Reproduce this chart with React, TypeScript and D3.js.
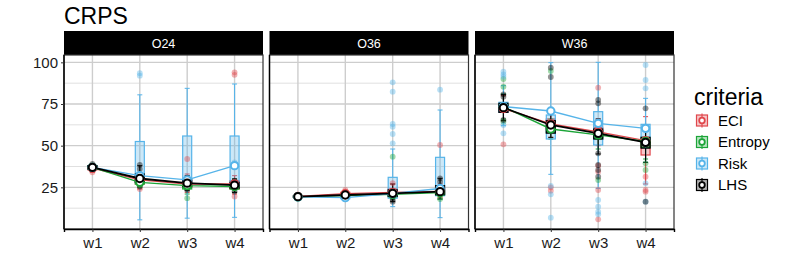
import { useEffect, useRef } from 'react'
import * as d3 from 'd3'

const panels = ['O24', 'O36', 'W36']
const weeks = ['w1', 'w2', 'w3', 'w4']
const criteria = ['ECI', 'Entropy', 'Risk', 'LHS']
const criteriaColors = ['#E0474C', '#1CA538', '#56B4E9', '#000000']
const yTicks = [25, 50, 75, 100]
const yMinor = [12.5, 37.5, 62.5, 87.5]

// mean per week, one list per criterion
const meansO24: Record<string, number[]> = {
  ECI: [36.5, 29.5, 27, 27],
  Entropy: [37, 28, 26, 25.5],
  Risk: [37, 32, 29.5, 38],
  LHS: [37, 30.3, 27.5, 26.3],
}
const meansO36: Record<string, number[]> = {
  ECI: [19.5, 21.2, 22, 22.5],
  Entropy: [19.3, 20, 20.8, 21.8],
  Risk: [19.3, 18.8, 21.3, 24.3],
  LHS: [19.4, 20.4, 21.4, 22.4],
}
const meansW36: Record<string, number[]> = {
  ECI: [72.3, 63, 58.3, 53],
  Entropy: [73.3, 60, 56.5, 52.5],
  Risk: [73.5, 70.8, 63.4, 60.4],
  LHS: [72.8, 62.4, 57.4, 52],
}

// box stats per week: [lower whisker, q1, median, q3, upper whisker]
const boxesO24: Record<string, number[][]> = {
  ECI: [[34, 35.5, 36.5, 37.5, 38.5], [24, 27, 29, 31, 34], [22, 25, 27, 29, 33], [21, 24, 26.5, 29, 32]],
  Entropy: [[35, 36, 37, 38, 39], [25, 27, 28, 30, 33], [21, 24, 26, 28, 31], [22, 24, 25.5, 27, 30]],
  Risk: [[35, 36, 37, 38, 39], [5.5, 28, 29.5, 52.5, 80.5], [6.5, 26.5, 27.5, 55.8, 84.4], [7, 25.5, 26.5, 55.8, 87]],
  LHS: [[35, 36, 37, 38, 39], [26, 28, 30, 33, 38], [23, 25.5, 27.5, 29.5, 32], [22, 24.5, 26, 28, 30]],
}
const boxesO36: Record<string, number[][]> = {
  ECI: [[18.5, 19, 19.5, 20, 20.5], [20, 20.8, 21.2, 22, 23], [19, 20.5, 22, 24, 27], [19, 21, 22.5, 24, 27]],
  Entropy: [[18.5, 19, 19.3, 19.8, 20.5], [19, 19.5, 20, 20.5, 21], [18, 19.5, 20.8, 22, 24], [18, 20.5, 21.8, 23, 25]],
  Risk: [[18.5, 19, 19.3, 19.8, 20.5], [17.5, 18.2, 18.8, 19.5, 20.5], [13.4, 18.5, 20, 31, 48], [6.8, 20, 22.5, 43, 71.4]],
  LHS: [[18.8, 19.1, 19.4, 19.7, 20], [19.5, 20, 20.4, 20.8, 21.5], [16.4, 19.5, 21.4, 23.5, 27], [18, 20.5, 22.4, 26, 30.4]],
}
const boxesW36: Record<string, number[][]> = {
  ECI: [[65, 70, 72, 74.5, 80], [55, 60, 63, 66, 72], [50, 55, 58, 61, 66], [27, 44.4, 51, 52.5, 67.4]],
  Entropy: [[66, 71, 73, 75, 81], [54, 58, 60, 62, 66], [48, 54, 56.5, 59, 64], [42, 49, 52.5, 55, 60]],
  Risk: [[62, 70, 73.5, 76, 86], [32.8, 54, 61, 68.4, 99.8], [24.4, 50.4, 63, 70.4, 100], [40, 53.4, 60, 62.8, 78.4]],
  LHS: [[65, 70, 72.5, 75.4, 80.8], [55, 57.5, 62, 65, 70], [45, 54, 57.4, 60, 66], [40, 48.5, 52, 55, 60]],
}

// single observations shown as points, per week
const pointsO24: Record<string, number[][]> = {
  ECI: [[34], [24], [42], [94, 92.5, 19.5]],
  Entropy: [[], [26], [18.5], []],
  Risk: [[], [93.5, 92], [], [40]],
  LHS: [[39], [38.5, 36, 25.5], [23.5], [22.5, 29]],
}
const pointsO36: Record<string, number[][]> = {
  ECI: [[], [23.4], [27.5], [50.4]],
  Entropy: [[], [], [43.4], [18]],
  Risk: [[], [], [51.4, 57, 61.4, 63, 82.4, 88], [83.6]],
  LHS: [[], [], [16.4, 17.5], [30.4, 28.4]],
}
const pointsW36: Record<string, number[][]> = {
  ECI: [[50.8], [23, 25], [84.8, 38, 34.4, 23.4, 5.8], [31.4, 23.4, 22.4]],
  Entropy: [[90, 85.4, 64.4], [94.8], [29.4], [39.4, 35.4]],
  Risk: [[94.4, 92.8, 91.4, 62.4, 57.4], [25.8, 20.8, 6.8], [17.4, 13.4, 10.4, 8.8], [98.4, 89.4, 84.4, 27.4, 16.4]],
  LHS: [[80.8, 79.4, 65.4], [96.8, 91.2], [77.4, 75.4, 45.4, 38.4, 35.4, 31.4], [72.4, 16.4]],
}

const panelMeans = [meansO24, meansO36, meansW36]
const panelBoxes = [boxesO24, boxesO36, boxesW36]
const panelPoints = [pointsO24, pointsO36, pointsW36]

export default function App() {
  const svgRef = useRef<SVGSVGElement>(null)

  useEffect(() => {
    if (!svgRef.current) return
    const width = 789
    const height = 279
    const font = '"Liberation Sans", Arial, Helvetica, sans-serif'

    const svg = d3.select(svgRef.current)
    svg.selectAll('*').remove()
    svg.attr('width', width).attr('height', height).style('font-family', font)

    const panelLeft = 64
    const panelW = 199
    const panelGap = 6.5
    const stripTop = 31
    const plotTop = 55
    const plotBottom = 229

    const y = d3.scaleLinear().domain([0, 104.4]).range([plotBottom, plotTop])
    const color = d3.scaleOrdinal<string, string>().domain(criteria).range(criteriaColors)

    // title
    svg.append('text')
      .attr('x', 64)
      .attr('y', 23.5)
      .style('font-size', '23px')
      .style('fill', '#000')
      .text('CRPS')

    panels.forEach((name, pi) => {
      const x0 = panelLeft + pi * (panelW + panelGap)
      const x = d3.scalePoint<string>()
        .domain(weeks)
        .range([x0, x0 + panelW])
        .padding(0.6)

      const g = svg.append('g')

      // strip
      g.append('rect')
        .attr('x', x0).attr('y', stripTop)
        .attr('width', panelW).attr('height', plotTop - stripTop)
        .attr('fill', '#000')
      g.append('text')
        .attr('x', x0 + panelW / 2)
        .attr('y', (stripTop + plotTop) / 2 + 4.5)
        .attr('text-anchor', 'middle')
        .style('font-size', '12.5px')
        .style('fill', '#fff')
        .text(name)

      // grid
      g.selectAll('.minor').data(yMinor).enter().append('line')
        .attr('x1', x0).attr('x2', x0 + panelW)
        .attr('y1', d => y(d)).attr('y2', d => y(d))
        .attr('stroke', '#e0e0e0').attr('stroke-width', 1)
      g.selectAll('.major').data(yTicks).enter().append('line')
        .attr('x1', x0).attr('x2', x0 + panelW)
        .attr('y1', d => y(d)).attr('y2', d => y(d))
        .attr('stroke', '#cdcdcd').attr('stroke-width', 1.4)
      g.selectAll('.vmajor').data(weeks).enter().append('line')
        .attr('x1', d => x(d)!).attr('x2', d => x(d)!)
        .attr('y1', plotTop).attr('y2', plotBottom)
        .attr('stroke', '#cdcdcd').attr('stroke-width', 1.4)

      const means = panelMeans[pi]
      const boxes = panelBoxes[pi]
      const points = panelPoints[pi]
      const bw = 9
      const cap = 2.5

      // boxes
      criteria.forEach(c => {
        const col = color(c)
        const bg = g.append('g')
        boxes[c].forEach((b, wi) => {
          const cx = x(weeks[wi])!
          const [lo, q1, med, q3, hi] = b
          bg.append('line')
            .attr('x1', cx).attr('x2', cx).attr('y1', y(lo)).attr('y2', y(q1))
            .attr('stroke', col).attr('stroke-width', 1.1)
          bg.append('line')
            .attr('x1', cx).attr('x2', cx).attr('y1', y(q3)).attr('y2', y(hi))
            .attr('stroke', col).attr('stroke-width', 1.1)
          ;[lo, hi].forEach(v => {
            bg.append('line')
              .attr('x1', cx - cap).attr('x2', cx + cap).attr('y1', y(v)).attr('y2', y(v))
              .attr('stroke', col).attr('stroke-width', 1)
          })
          bg.append('rect')
            .attr('x', cx - bw / 2).attr('y', y(q3))
            .attr('width', bw).attr('height', y(q1) - y(q3))
            .attr('fill', col).attr('fill-opacity', 0.3)
            .attr('stroke', col).attr('stroke-width', 1.2)
          bg.append('line')
            .attr('x1', cx - bw / 2).attr('x2', cx + bw / 2).attr('y1', y(med)).attr('y2', y(med))
            .attr('stroke', col).attr('stroke-width', 1)
        })
      })

      // raw points
      criteria.forEach(c => {
        const flat = points[c].flatMap((vals, wi) => vals.map(v => ({ w: weeks[wi], v })))
        g.selectAll(null).data(flat).enter().append('circle')
          .attr('cx', d => x(d.w)!)
          .attr('cy', d => y(d.v))
          .attr('r', 2.9)
          .attr('fill', color(c))
          .attr('fill-opacity', 0.42)
      })

      // mean lines
      const line = d3.line<number>()
        .x((_, i) => x(weeks[i])!)
        .y(d => y(d))
      criteria.forEach(c => {
        g.append('path')
          .datum(means[c])
          .attr('d', line)
          .attr('fill', 'none')
          .attr('stroke', color(c))
          .attr('stroke-width', c === 'LHS' ? 1.8 : 1.4)
      })
      criteria.forEach(c => {
        g.selectAll(null).data(means[c]).enter().append('circle')
          .attr('cx', (_, i) => x(weeks[i])!)
          .attr('cy', d => y(d))
          .attr('r', 3.7)
          .attr('fill', '#fff')
          .attr('stroke', color(c))
          .attr('stroke-width', 2)
      })

      // border
      g.append('rect')
        .attr('x', x0).attr('y', plotTop)
        .attr('width', panelW).attr('height', plotBottom - plotTop)
        .attr('fill', 'none').attr('stroke', '#333').attr('stroke-width', 1.2)

      // x axis
      const xAxis = g.append('g')
        .attr('transform', `translate(0,${plotBottom})`)
        .call(d3.axisBottom(x).tickSize(3).tickPadding(5))
      xAxis.select('.domain').attr('stroke', '#000').attr('stroke-width', 1.4)
      xAxis.selectAll('.tick line').attr('stroke', '#333')
      xAxis.selectAll('text')
        .style('font-size', '15px')
        .style('font-family', font)
        .attr('fill', '#1a1a1a')

      // y axis only on first panel
      const yAxis = g.append('g')
        .attr('transform', `translate(${x0},0)`)
        .call(d3.axisLeft(y).tickValues(pi === 0 ? yTicks : []).tickSize(3).tickPadding(3))
      yAxis.select('.domain').attr('stroke', '#000').attr('stroke-width', 1.4)
        .attr('d', `M0,${plotTop}V${plotBottom}`)
      yAxis.selectAll('.tick line').attr('stroke', '#333')
      yAxis.selectAll('text')
        .style('font-size', '15px')
        .style('font-family', font)
        .attr('fill', '#1a1a1a')
    })

    // legend
    const lg = svg.append('g')
    lg.append('text')
      .attr('x', 694).attr('y', 105)
      .style('font-size', '23px')
      .style('fill', '#000')
      .text('criteria')
    criteria.forEach((c, i) => {
      const cy = 120.5 + i * 21.5
      const cx = 702
      const col = color(c)
      lg.append('line')
        .attr('x1', cx).attr('x2', cx).attr('y1', cy - 7).attr('y2', cy + 7)
        .attr('stroke', col).attr('stroke-width', 1.1)
      lg.append('rect')
        .attr('x', cx - 5.5).attr('y', cy - 5.5)
        .attr('width', 11).attr('height', 11)
        .attr('fill', col).attr('fill-opacity', 0.3)
        .attr('stroke', col).attr('stroke-width', 1.2)
      lg.append('circle')
        .attr('cx', cx).attr('cy', cy).attr('r', 2.8)
        .attr('fill', '#fff').attr('stroke', col).attr('stroke-width', 1.8)
      lg.append('text')
        .attr('x', 718).attr('y', cy + 5.3)
        .style('font-size', '15px')
        .style('fill', '#000')
        .text(c)
    })
  }, [])

  return (
    <svg
      ref={svgRef}
      style={{ position: 'absolute', left: 0, top: 0, display: 'block', background: '#fff' }}
    />
  )
}
